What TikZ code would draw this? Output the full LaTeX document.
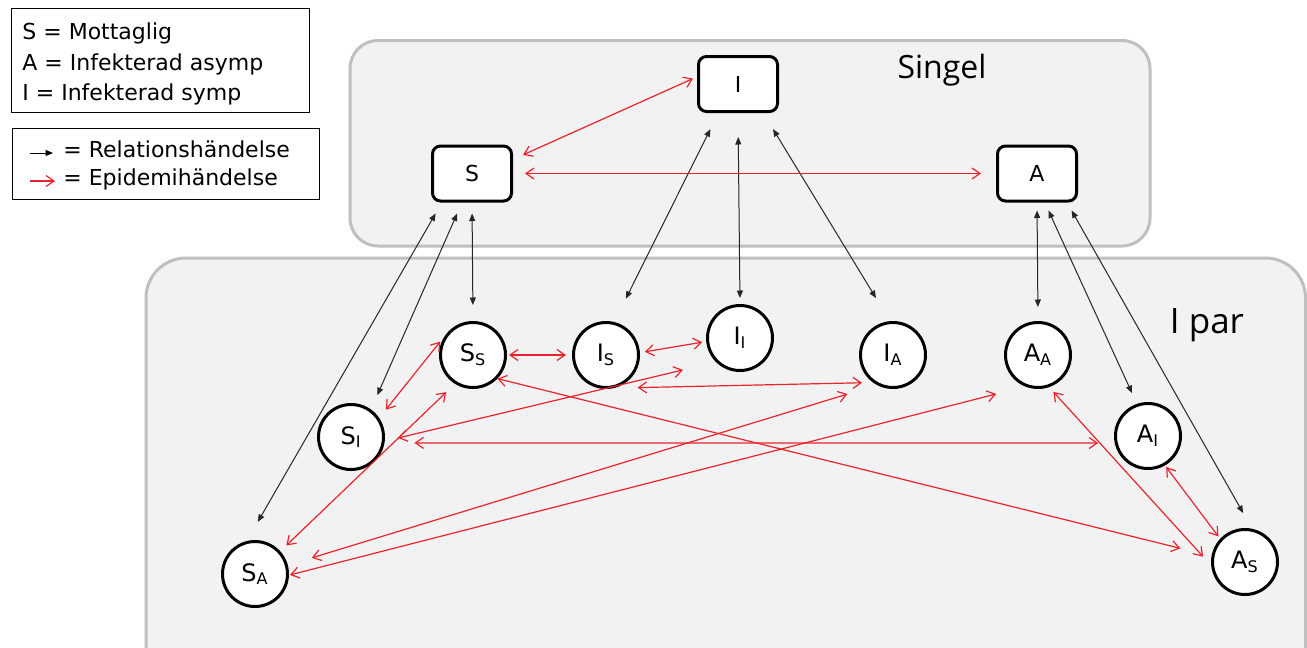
\documentclass[tikz,border=0pt]{standalone}
\usepackage{fontspec}
\setmainfont{DejaVu Sans}
\newfontfamily\titlefont{Open Sans}
\usetikzlibrary{arrows.meta}
\definecolor{boxgray}{RGB}{242,242,242}
\definecolor{edgegray}{RGB}{191,191,191}
\definecolor{epired}{RGB}{232,35,45}

\begin{document}
\begin{tikzpicture}[x=0.5pt,y=-0.5pt,
  state/.style={draw=black,line width=1.5pt,fill=white,rounded corners=4pt,
    minimum width=39.5pt,minimum height=27.5pt,inner sep=0pt,font=\fontsize{11}{13}\selectfont},
  pair/.style={draw=black,line width=1.5pt,fill=white,circle,minimum size=32.5pt,
    inner sep=0pt,font=\fontsize{12}{14}\selectfont},
  rel/.style={black!85,line width=0.5pt,
    {Triangle[length=3.75pt,width=3pt]}-{Triangle[length=3.75pt,width=3pt]}},
  epi/.style={epired,line width=0.6pt,
    {Straight Barb[length=4pt,width=5.5pt]}-{Straight Barb[length=4pt,width=5.5pt]}},
  group/.style={draw=edgegray,line width=1.5pt,fill=boxgray},
  legend/.style={draw=black,line width=0.5pt},
  legtext/.style={anchor=base west,inner sep=0pt,font=\fontsize{11}{13}\selectfont}]

\useasboundingbox (0,0) rectangle (1307,648);
\clip (0,0) rectangle (1307,648);

\newcommand{\reledge}[4]{
    \draw[rel,shorten <=#3,shorten >=#4] (#1)--(#2);
}

\newcommand{\epiedge}[4]{
    \draw[epi,shorten <=#3,shorten >=#4] (#1)--(#2);
}

% groups
\draw[group,rounded corners=14pt] (350,40.5) rectangle (1150,246);
\draw[group,rounded corners=20pt] (146,258) rectangle (1305.5,700);
\node[anchor=base,inner sep=0pt,font=\titlefont\fontsize{16}{18}\selectfont] (singel) at (942,78) {Singel};
\node[anchor=base,inner sep=0pt,font=\titlefont\fontsize{17.5}{20}\selectfont] (ipar) at (1207,333) {I par};

% legend
\draw[legend] (11.5,8.5) rectangle (309.5,112.5);
\draw[legend] (12.5,128.5) rectangle (319.5,199.5);
\node[legtext] (legS) at (22,39.5) {S = Mottaglig};
\node[legtext] (legA) at (22,70.5) {A = Infekterad asymp};
\node[legtext] (legI) at (22,100.5) {I = Infekterad symp};
\node[legtext] (legrel) at (63,157) {= Relationshändelse};
\node[legtext] (legepi) at (63,185.5) {= Epidemihändelse};
\coordinate (relfrom) at (30,153);
\coordinate (relto) at (53,153);
\coordinate (epifrom) at (30,181);
\coordinate (epito) at (55,181);
\draw[black,line width=0.5pt,-{Triangle[length=3.75pt,width=3pt]}] (relfrom)--(relto);
\draw[epired,line width=0.6pt,-{Straight Barb[length=4pt,width=5.5pt]}] (epifrom)--(epito);

% single states
\node[state] (I) at (738,84) {I};
\node[state] (S) at (472,173.5) {S};
\node[state] (A) at (1037,173.5) {A};

% pair states
\node[pair] (SS) at (473,355) {S\textsubscript{S}};
\node[pair] (IS) at (606,355) {I\textsubscript{S}};
\node[pair] (II) at (740,338) {I\textsubscript{I}};
\node[pair] (IA) at (893,355) {I\textsubscript{A}};
\node[pair] (AA) at (1038,355) {A\textsubscript{A}};
\node[pair] (SI) at (351,437) {S\textsubscript{I}};
\node[pair] (AI) at (1148,436) {A\textsubscript{I}};
\node[pair] (SA) at (255,574) {S\textsubscript{A}};
\node[pair] (AS) at (1245,562) {A\textsubscript{S}};

% relation events
\reledge{S.224}{SA.104}{6.3pt}{11pt}
\reledge{S.251}{SI.54.5}{6pt}{7.8pt}
\reledge{S.south}{SS.north}{5.5pt}{8pt}
\reledge{I.236.8}{IS.76}{9pt}{13pt}
\reledge{I.south}{II.north}{12pt}{3pt}
\reledge{I.311}{IA.95}{9.4pt}{13.5pt}
\reledge{A.south}{AA.north}{4pt}{7pt}
\reledge{A.285.4}{AI.109}{4.4pt}{5.9pt}
\reledge{A.316.4}{AS.78}{4.6pt}{9pt}

% epidemic events
\epiedge{S.19.6}{I.170.6}{5.5pt}{2.2pt}
\epiedge{S.east}{A.west}{6pt}{7.5pt}
\epiedge{SS.east}{IS.west}{1pt}{3pt}
\epiedge{IS.4}{II.186}{2.5pt}{2pt}
\epiedge{SI.34.7}{SS.143.5}{5.3pt}{4.5pt}
\epiedge{SA.42.6}{SS.238}{4.2pt}{6pt}
\epiedge{SI.353}{II.225}{6.8pt}{17pt}
\epiedge{SI.350}{AI.192}{15pt}{8.3pt}
\epiedge{IS.283.5}{IA.234.5}{12pt}{5.5pt}
\epiedge{SA.15}{IA.242}{12.5pt}{15.5pt}
\epiedge{SA.358}{AA.248}{0.5pt}{15pt}
\epiedge{SS.316}{AS.170}{0pt}{16pt}
\epiedge{AA.289}{AS.186.7}{3.2pt}{6pt}
\epiedge{AI.300}{AS.137}{1pt}{1.5pt}
\end{tikzpicture}
\end{document}
